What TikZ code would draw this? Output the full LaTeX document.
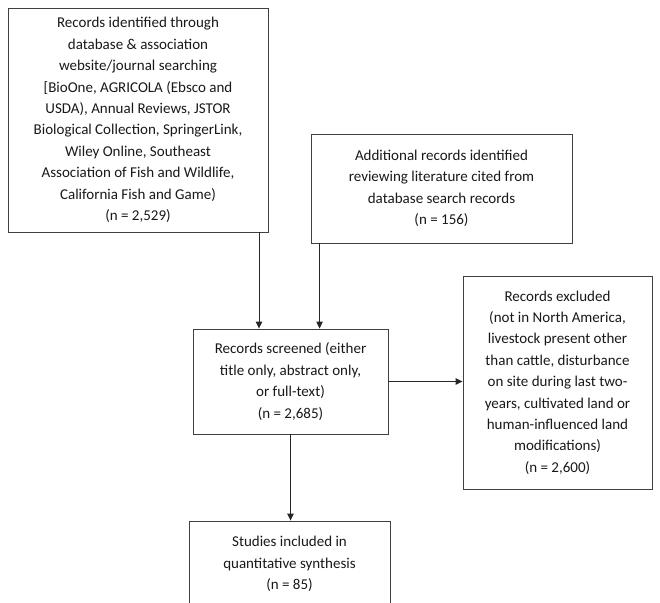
\documentclass[tikz,border=0pt]{standalone}
\usepackage{fontspec}
\setmainfont{Carlito}
\usetikzlibrary{arrows.meta}
\begin{document}
\begin{tikzpicture}[x=1pt,y=-1pt,
  box/.style={draw=black!75, line width=0.9pt, fill=white, align=center,
    font=\fontsize{15}{21.4}\selectfont, text=black!90, inner sep=0pt},
  arr/.style={-{Triangle[length=7pt,width=6.5pt]}, line width=0.9pt, draw=black!85}]
\useasboundingbox (0,0) rectangle (660,602);
\clip (0,0) rectangle (660,602);
\node[box, minimum width=260pt, minimum height=224pt] (b1) at (138,120)
  {Records identified through\\database \& association\\website/journal searching\\{[}BioOne, AGRICOLA (Ebsco and\\USDA), Annual Reviews, JSTOR\\Biological Collection, SpringerLink,\\Wiley Online, Southeast\\Association of Fish and Wildlife,\\California Fish and Game)\\(n = 2,529)};
\node[box, minimum width=261pt, minimum height=109pt] (b2) at (441.5,188.5)
  {Additional records identified\\reviewing literature cited from\\database search records\\(n = 156)};
\node[box, minimum width=195pt, minimum height=105pt] (scr) at (290.5,381.5)
  {Records screened (either\\title only, abstract only,\\or full-text)\\(n = 2,685)};
\node[box, minimum width=189pt, minimum height=213pt] (exc) at (557.5,382.5)
  {Records excluded\\(not in North America,\\livestock present other\\than cattle, disturbance\\on site during last two-\\years, cultivated land or\\human-influenced land\\modifications)\\(n = 2,600)};
\node[box, minimum width=201pt, minimum height=86pt] (st) at (289.5,564)
  {Studies included in\\quantitative synthesis\\(n = 85)};
\draw[arr] ([xshift=121pt]b1.south) -- ([xshift=121pt]b1.south |- scr.north);
\draw[arr] ([xshift=9pt]b2.south west) -- ([xshift=9pt]b2.south west |- scr.north);
\draw[arr] (scr.east) -- (scr.east -| exc.west);
\draw[arr] (scr.south) -- (scr.south |- st.north);
\end{tikzpicture}
\end{document}
